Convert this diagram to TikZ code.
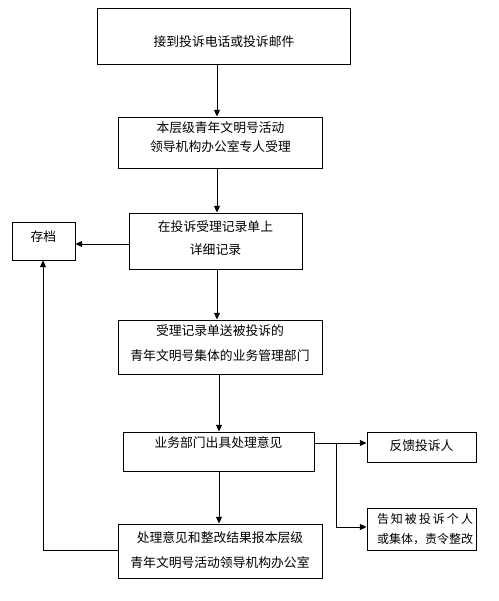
\documentclass[tikz,border=0pt]{standalone}
\usepackage{fontspec}
\setmainfont{Noto Sans CJK SC}
\usetikzlibrary{arrows.meta}
\begin{document}
\begin{tikzpicture}[x=0.75pt,y=-0.75pt,
  box/.style={draw,line width=0.75pt,rectangle,inner sep=0pt},
  txt/.style={inner sep=0pt,font=\fontsize{9.6pt}{11pt}\selectfont,align=center},
  small/.style={inner sep=0pt,font=\fontsize{9pt}{11pt}\selectfont,align=center},
  arr/.style={line width=0.75pt,-{Triangle[length=5pt,width=4.5pt]}},
  ln/.style={line width=0.75pt}]
\useasboundingbox (0,0) rectangle (499,601);
\node[box,minimum width=189.75pt,minimum height=42pt] (b1) at (224,36) {};
\node[txt] (t1) at (224,42) {接到投诉电话或投诉邮件};
\node[box,minimum width=153pt,minimum height=38.25pt] (b2) at (220.5,142.5) {};
\node[txt] (t2a) at (220.5,128) {本层级青年文明号活动};
\node[txt] (t2b) at (220.5,147) {领导机构办公室专人受理};
\node[box,minimum width=129.75pt,minimum height=42pt] (b3) at (215.5,241) {};
\node[txt] (t3a) at (215.5,227) {在投诉受理记录单上};
\node[txt] (t3b) at (215.5,250) {详细记录};
\node[box,minimum width=47.25pt,minimum height=28.5pt] (st) at (43.5,241) {};
\node[txt] (tst) at (43.5,237) {存档};
\node[box,minimum width=153pt,minimum height=40.5pt] (b4) at (220,347) {};
\node[txt] (t4a) at (220,331) {受理记录单送被投诉的};
\node[txt] (t4b) at (220,356) {青年文明号集体的业务管理部门};
\node[box,minimum width=143.25pt,minimum height=29.25pt] (b5) at (218.5,451.5) {};
\node[txt] (t5) at (218.5,443) {业务部门出具处理意见};
\node[box,minimum width=81.75pt,minimum height=22.5pt] (fb) at (421.5,447) {};
\node[txt] (tfb) at (421.5,446) {反馈投诉人};
\node[box,minimum width=81.75pt,minimum height=31.5pt] (b7) at (421.5,529) {};
\node[small] (t7a) at (425,519) {\makebox[72pt][s]{告\hfill 知\hfill 被\hfill 投\hfill 诉\hfill 个\hfill 人}};
\node[small] (t7b) at (425,539) {或集体，责令整改};
\node[box,minimum width=153pt,minimum height=40.5pt] (b6) at (220,551) {};
\node[txt] (t6a) at (220,538) {处理意见和整改结果报本层级};
\node[txt] (t6b) at (220,563) {青年文明号活动领导机构办公室};
\coordinate (br) at (336,443);
\coordinate (bl) at (43,550);
\draw[arr] (b1.south -| 217,0) -- (b2.north -| 217,0);
\draw[arr] (b2.south -| 217,0) -- (b3.north -| 217,0);
\draw[arr] (b3.south -| 217,0) -- (b4.north -| 217,0);
\draw[arr] (b4.south -| 219,0) -- (b5.north -| 219,0);
\draw[arr] (b5.south -| 219,0) -- (b6.north -| 219,0);
\draw[arr] (b3.west |- 0,244) -- (st.east |- 0,244);
\draw[arr] (b5.east |- br) -- (fb.west |- br);
\draw[arr] (br) |- (b7.west |- 0,527);
\draw[arr] (b6.west |- bl) -- (bl) -- (st.south -| bl);
\end{tikzpicture}
\end{document}
